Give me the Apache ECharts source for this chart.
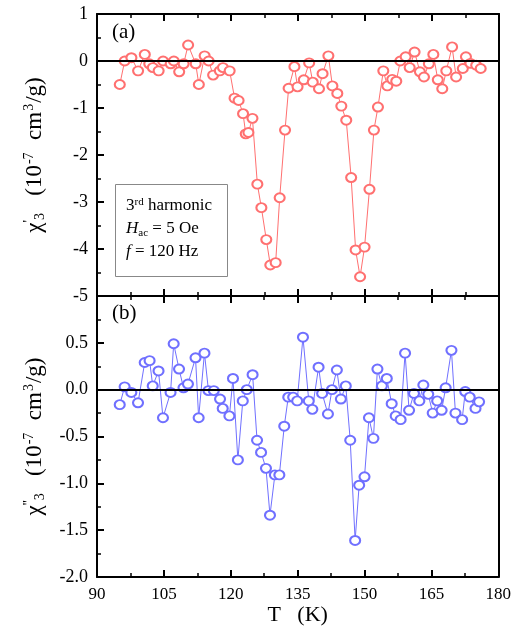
<!DOCTYPE html>
<html><head><meta charset="utf-8">
<script src="https://cdn.jsdelivr.net/npm/echarts@6/dist/echarts.min.js"></script>
<style>html,body{margin:0;padding:0;background:#fff}#c{width:514px;height:633px}</style>
</head><body><div id="c"></div>
<script>
// ---- data ----
const tempA = [95.1,96.2,97.7,99.2,100.7,101.7,102.5,103.8,104.8,106.5,107.2,108.4,109.4,110.4,112.1,112.8,114.1,115.0,116.0,117.5,118.2,119.7,120.8,121.7,122.7,123.3,123.9,124.8,125.9,126.8,127.9,128.8,130.0,130.9,132.1,132.9,134.2,134.9,136.3,137.5,138.3,139.7,140.5,141.8,142.7,143.8,144.7,145.8,146.9,147.9,148.9,149.9,151.0,152.0,152.9,154.1,155.0,156.1,157.0,157.9,159.1,160.0,161.1,162.3,163.2,164.3,165.3,166.3,167.3,168.2,169.5,170.4,171.9,172.6,173.6,174.9,175.9];
const chiRealA = [-0.50,0.00,0.07,-0.21,0.14,-0.06,-0.14,-0.21,0.00,-0.06,0.00,-0.23,-0.06,0.34,-0.06,-0.50,0.11,0.00,-0.30,-0.21,-0.14,-0.21,-0.79,-0.84,-1.12,-1.55,-1.52,-1.22,-2.62,-3.12,-3.80,-4.34,-4.29,-2.91,-1.47,-0.58,-0.12,-0.55,-0.40,-0.04,-0.45,-0.59,-0.27,0.11,-0.53,-0.69,-0.96,-1.26,-2.48,-4.02,-4.59,-3.96,-2.73,-1.47,-0.98,-0.21,-0.53,-0.39,-0.43,0.00,0.09,-0.14,0.19,-0.23,-0.34,-0.06,0.14,-0.40,-0.59,-0.21,0.30,-0.34,-0.16,0.09,-0.05,-0.09,-0.16];
const tempB = [95.1,96.2,97.7,99.2,100.7,101.8,102.5,103.8,104.8,106.5,107.2,108.4,109.4,110.4,112.1,112.8,114.1,115.0,116.2,117.6,118.2,119.7,120.5,121.6,122.7,123.6,124.9,125.9,126.8,127.9,128.8,129.9,130.9,132.0,132.9,134.0,134.9,136.2,137.5,138.3,139.7,140.5,141.8,142.7,143.8,144.7,145.8,146.8,147.9,148.8,150.0,151.0,152.0,152.9,153.9,155.0,156.1,157.0,158.1,159.1,160.0,161.1,162.3,163.2,164.3,165.3,166.3,167.3,168.2,169.5,170.4,171.9,172.6,173.6,174.9,175.7];
const chiImagB = [-0.16,0.03,-0.03,-0.14,0.29,0.31,0.04,0.20,-0.30,-0.03,0.49,0.22,0.02,0.06,0.34,-0.30,0.39,-0.01,-0.01,-0.10,-0.20,-0.28,0.12,-0.75,-0.12,0.00,0.16,-0.54,-0.67,-0.84,-1.34,-0.91,-0.91,-0.39,-0.08,-0.08,-0.12,0.56,-0.12,-0.21,0.24,-0.04,-0.26,0.00,0.21,-0.10,0.04,-0.54,-1.61,-1.02,-0.93,-0.30,-0.52,0.22,0.04,0.12,-0.15,-0.28,-0.32,0.39,-0.22,-0.04,-0.12,0.05,-0.05,-0.25,-0.12,-0.22,0.02,0.42,-0.25,-0.32,-0.02,-0.08,-0.20,-0.13];
const xTicks = {min: 90, max: 180, step: 15};
const yTicksA = {min: -5, max: 1, step: 1};
const yTicksB = {min: -2, max: 1, step: 0.5};

const FONT = 'Liberation Serif';
const black = '#000';
function xAxisDef(gi, pos, labels, name) {
  return {
    type: 'value', gridIndex: gi, position: pos, min: xTicks.min, max: xTicks.max, interval: xTicks.step,
    axisLine: {show: true, onZero: false, lineStyle: {color: black, width: 2}},
    axisTick: {show: true, inside: true, length: 7, lineStyle: {color: black, width: 2}},
    minorTick: {show: true, splitNumber: 2, length: 4, lineStyle: {color: black, width: 1.5}},
    axisLabel: {show: labels, color: black, fontFamily: FONT, fontSize: 17, margin: 9},
    splitLine: {show: false},
    name: name || '', nameLocation: 'middle', nameGap: 19,
    nameTextStyle: {color: black, fontFamily: FONT, fontSize: 22}
  };
}
function yAxisDef(gi, pos, t, fmt, name) {
  const left = pos === 'left';
  return {
    type: 'value', gridIndex: gi, position: pos, min: t.min, max: t.max, interval: t.step,
    axisLine: {show: true, onZero: false, lineStyle: {color: black, width: 2}},
    axisTick: {show: left, inside: true, length: 7, lineStyle: {color: black, width: 2}},
    minorTick: {show: left, splitNumber: 2, length: 4, lineStyle: {color: black, width: 1.5}},
    axisLabel: {show: left, color: black, fontFamily: FONT, fontSize: 18, margin: 9, formatter: fmt},
    splitLine: {show: false},
    name: name || '', nameLocation: 'middle', nameRotate: 90, nameGap: 50,
    nameTextStyle: {
      color: black, fontFamily: FONT, fontSize: 23,
      rich: {
        n: {fontFamily: FONT, fontSize: 23, color: black},
        p: {fontFamily: FONT, fontSize: 14, color: black, verticalAlign: 'top', padding: [0, 0, 11, 0]},
        sup: {fontFamily: FONT, fontSize: 14, color: black, verticalAlign: 'top', padding: [0, 1, 11, 1]},
        sub: {fontFamily: FONT, fontSize: 14, color: black, verticalAlign: 'bottom', padding: [9, 0, 0, 0]}
      }
    }
  };
}
const nameA = '{n|χ}{p|\'}{sub|3}{n|   (10}{sup|-7}{n|  cm}{sup|3}{n|/g)}';
const nameB = '{n|χ}{p|\'\'}{sub|3}{n|   (10}{sup|-7}{n|  cm}{sup|3}{n|/g)}';

const option = {
  animation: false,
  backgroundColor: '#fff',
  grid: [
    {left: 97, top: 14, width: 402, height: 282},
    {left: 97, top: 296, width: 402, height: 281}
  ],
  xAxis: [
    xAxisDef(0, 'bottom', false),
    xAxisDef(0, 'top', false),
    xAxisDef(1, 'bottom', true, 'T   (K)'),
    xAxisDef(1, 'top', false)
  ],
  yAxis: [
    yAxisDef(0, 'left', yTicksA, v => String(v), nameA),
    yAxisDef(0, 'right', yTicksA, v => String(v)),
    yAxisDef(1, 'left', yTicksB, v => (v >= 1 ? '' : v.toFixed(1)), nameB),
    yAxisDef(1, 'right', yTicksB, v => String(v))
  ],
  series: [
    {
      type: 'line', xAxisIndex: 0, yAxisIndex: 0,
      data: tempA.map((t, i) => [t, chiRealA[i]]),
      symbol: 'emptyCircle', symbolSize: [10, 9],
      lineStyle: {color: '#ff7070', width: 1},
      itemStyle: {color: '#ff7070', borderWidth: 1},
      markLine: {silent: true, symbol: 'none', label: {show: false}, lineStyle: {color: black, width: 2, type: 'solid'}, data: [{yAxis: 0}]}
    },
    {
      type: 'line', xAxisIndex: 2, yAxisIndex: 2,
      data: tempB.map((t, i) => [t, chiImagB[i]]),
      symbol: 'emptyCircle', symbolSize: [10, 9],
      lineStyle: {color: '#7070ff', width: 1},
      itemStyle: {color: '#7070ff', borderWidth: 1},
      markLine: {silent: true, symbol: 'none', label: {show: false}, lineStyle: {color: black, width: 2, type: 'solid'}, data: [{yAxis: 0}]}
    }
  ],
  graphic: [
    {type: 'text', left: 112, top: 22, style: {text: '(a)', font: '21px "Liberation Serif"', fill: black}},
    {type: 'text', left: 112, top: 303, style: {text: '(b)', font: '21px "Liberation Serif"', fill: black}},
    {type: 'rect', shape: {x: 115.5, y: 184.5, width: 112, height: 92}, style: {fill: '#fff', stroke: '#888', lineWidth: 1}, z: 10},
    {type: 'text', x: 126, y: 206, z: 11, style: {
      text: '{n|3}{sup|rd}{n| harmonic}', verticalAlign: 'middle',
      rich: {n: {font: '17px "Liberation Serif"', fill: black}, sup: {font: '11px "Liberation Serif"', fill: black, verticalAlign: 'top', padding: [0,0,8,0]}}
    }},
    {type: 'text', x: 126, y: 229, z: 11, style: {
      text: '{i|H}{sub|ac}{n| = 5 Oe}', verticalAlign: 'middle',
      rich: {n: {font: '17px "Liberation Serif"', fill: black}, i: {font: 'italic 17px "Liberation Serif"', fill: black}, sub: {font: '11px "Liberation Serif"', fill: black, verticalAlign: 'bottom', padding: [8,0,0,0]}}
    }},
    {type: 'text', x: 126, y: 252, z: 11, style: {
      text: '{i|f}{n| = 120 Hz}', verticalAlign: 'middle',
      rich: {n: {font: '17px "Liberation Serif"', fill: black}, i: {font: 'italic 17px "Liberation Serif"', fill: black}}
    }}
  ]
};
const chart = echarts.init(document.getElementById('c'), null, {renderer: 'canvas'});
chart.setOption(option);
</script>
</body></html>
